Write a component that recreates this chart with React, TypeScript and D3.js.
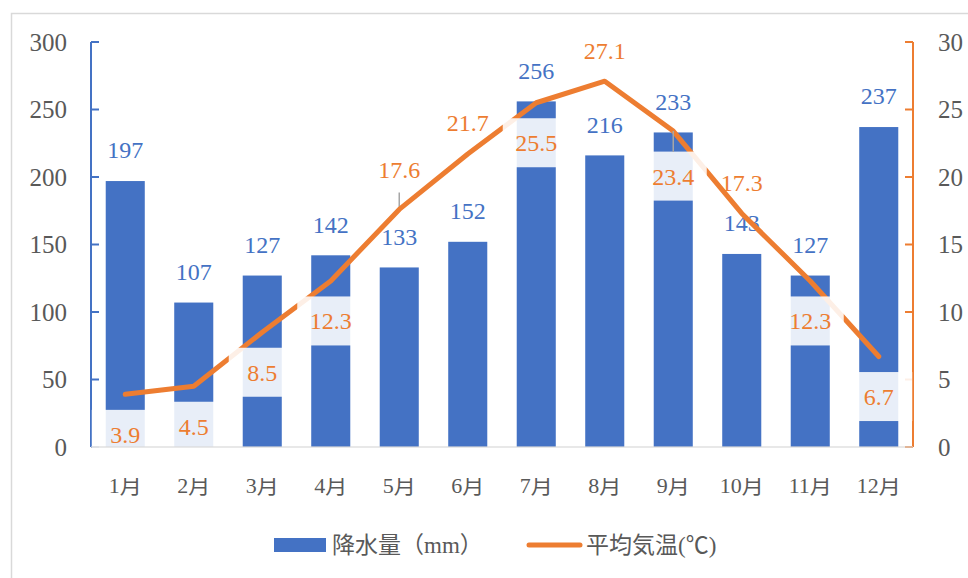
import React from "react";
import * as d3 from "d3";

const W = 968;
const H = 578;
const margin = { top: 42, right: 55, bottom: 131, left: 91 };

const months = ["1月", "2月", "3月", "4月", "5月", "6月", "7月", "8月", "9月", "10月", "11月", "12月"];
const rainfall = [197, 107, 127, 142, 133, 152, 256, 216, 233, 143, 127, 237];
const temperature = [3.9, 4.5, 8.5, 12.3, 17.6, 21.7, 25.5, 27.1, 23.4, 17.3, 12.3, 6.7];
// where each temperature label sits relative to its point
const tempLabelPlace = ["below", "below", "below", "below", "aboveLeader", "above", "below", "above", "belowLeader", "above", "below", "below"];
const rainTicks = [0, 50, 100, 150, 200, 250, 300];
const tempTicks = [0, 5, 10, 15, 20, 25, 30];
const rainName = "降水量（mm）";
const tempName = "平均気温(℃)";

const BLUE = "#4472C4";
const ORANGE = "#ED7D31";
const GRAY = "#595959";
const FONT = "'Liberation Serif', 'Noto Sans CJK JP', serif";

export default function App() {
  const x = d3
    .scaleBand<string>()
    .domain(months)
    .range([margin.left, W - margin.right])
    .paddingInner(0.43)
    .paddingOuter(0.215);

  const y = d3.scaleLinear().domain([0, 300]).range([H - margin.bottom, margin.top]);
  const y2 = d3.scaleLinear().domain([0, 30]).range([H - margin.bottom, margin.top]);

  const cx = (m: string) => (x(m) as number) + x.bandwidth() / 2;
  const base = y(0);

  const line = d3
    .line<number>()
    .x((d, i) => cx(months[i]))
    .y(d => y2(d));

  const offset = (p: string) =>
    p === "below" ? 40 : p === "belowLeader" ? 45 : p === "above" ? -31 : -40;

  const boxW = 67;
  const boxH = 49;

  return (
    <svg
      width={W}
      height={H}
      style={{ position: "absolute", left: 0, top: 0, background: "#fff" }}
      fontFamily={FONT}
    >
      <rect x={11.5} y={13.5} width={1000} height={700} fill="#fff" stroke="#D9D9D9" strokeWidth={1.5} />

      {/* bars */}
      {rainfall.map((v, i) => (
        <rect key={"b" + i} x={x(months[i])} y={y(v)} width={x.bandwidth()} height={base - y(v)} fill={BLUE} />
      ))}

      {/* left axis */}
      <line x1={margin.left} x2={margin.left} y1={y(300)} y2={base} stroke={BLUE} strokeWidth={2} />
      {rainTicks.map(t => (
        <g key={"lt" + t}>
          <line x1={margin.left} x2={margin.left + 8} y1={y(t)} y2={y(t)} stroke={BLUE} strokeWidth={2} />
          <text x={67} y={y(t)} dy="0.35em" textAnchor="end" fontSize={25} fill={GRAY}>
            {t}
          </text>
        </g>
      ))}

      {/* right axis */}
      <line x1={W - margin.right} x2={W - margin.right} y1={y2(30)} y2={base} stroke={ORANGE} strokeWidth={2} />
      {tempTicks.map(t => (
        <g key={"rt" + t}>
          <line x1={W - margin.right - 8} x2={W - margin.right} y1={y2(t)} y2={y2(t)} stroke={ORANGE} strokeWidth={2} />
          <text x={938} y={y2(t)} dy="0.35em" textAnchor="start" fontSize={25} fill={GRAY}>
            {t}
          </text>
        </g>
      ))}

      {/* month labels */}
      {months.map(m => (
        <text key={"m" + m} x={cx(m)} y={base + 38} dy="0.35em" textAnchor="middle" fontSize={22} fill={GRAY}>
          {m}
        </text>
      ))}

      {/* rainfall labels */}
      {rainfall.map((v, i) => (
        <text key={"rl" + i} x={cx(months[i])} y={y(v) - 31} dy="0.35em" textAnchor="middle" fontSize={24} fill={BLUE}>
          {v}
        </text>
      ))}

      {/* leader lines */}
      {temperature.map((t, i) => {
        const p = tempLabelPlace[i];
        if (p === "aboveLeader")
          return <line key={"ld" + i} x1={cx(months[i])} x2={cx(months[i])} y1={y2(t) - 17} y2={y2(t)} stroke="#A6A6A6" strokeWidth={1.5} />;
        return null;
      })}

      {/* temperature line */}
      <path d={line(temperature) || ""} fill="none" stroke={ORANGE} strokeWidth={5} strokeLinecap="round" strokeLinejoin="round" />

      {/* temperature label boxes */}
      {temperature.map((t, i) => {
        const p = tempLabelPlace[i];
        if (!p.startsWith("below")) return null;
        const cy = y2(t) + offset(p);
        return (
          <rect key={"bx" + i} x={cx(months[i]) - boxW / 2} y={cy - boxH / 2} width={boxW} height={boxH} fill="#fff" fillOpacity={0.88} />
        );
      })}
      {temperature.map((t, i) => {
        const p = tempLabelPlace[i];
        if (p !== "belowLeader") return null;
        return <line key={"ld2" + i} x1={cx(months[i])} x2={cx(months[i])} y1={y2(t)} y2={y2(t) + 21} stroke="#A6A6A6" strokeWidth={1.5} />;
      })}
      {/* keep boxes inside the plot */}
      <rect x={margin.left - 1} y={base + 1} width={W - margin.left - margin.right + 2} height={30} fill="#fff" />
      <line x1={margin.left} x2={W - margin.right} y1={base} y2={base} stroke="#D9D9D9" strokeWidth={2} strokeOpacity={0.6} />

      {temperature.map((t, i) => (
        <text
          key={"tl" + i}
          x={cx(months[i])}
          y={y2(t) + offset(tempLabelPlace[i])}
          dy="0.35em"
          textAnchor="middle"
          fontSize={24}
          fill={ORANGE}
        >
          {t.toFixed(1)}
        </text>
      ))}

      {/* legend */}
      <rect x={274} y={538} width={52} height={14} fill={BLUE} />
      <text x={332} y={545} dy="0.35em" fontSize={23} fill={GRAY}>
        {rainName}
      </text>
      <line x1={529} x2={580} y1={545} y2={545} stroke={ORANGE} strokeWidth={5} strokeLinecap="round" />
      <text x={586} y={545} dy="0.35em" fontSize={23} fill={GRAY}>
        {tempName}
      </text>
    </svg>
  );
}
